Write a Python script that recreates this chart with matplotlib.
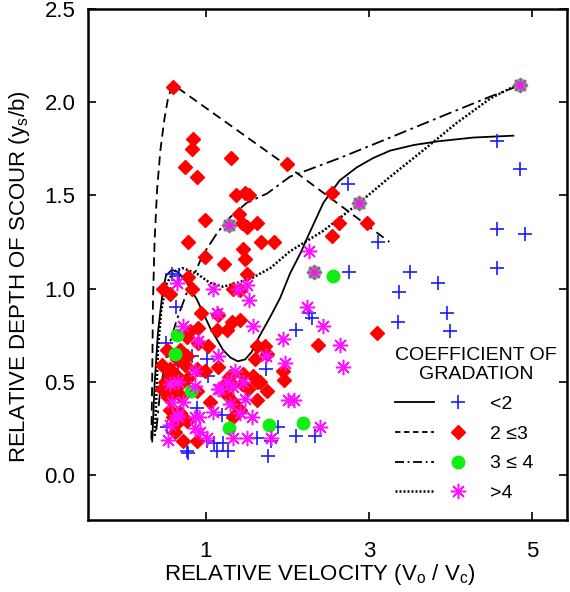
import matplotlib.pyplot as plt
from matplotlib.lines import Line2D
from matplotlib.legend_handler import HandlerTuple

plt.rcParams['font.family'] = ['Liberation Sans', 'DejaVu Sans']
plt.rcParams['mathtext.default'] = 'regular'

# scatter data, relative velocity vs relative depth of scour
blue_x = [0.58, 0.67, 0.63, 0.51, 0.83, 1.01, 0.66, 1.03, 0.67, 0.89, 1.20, 0.52,
          1.01, 1.10, 1.21, 1.14, 1.27, 0.77, 0.78, 1.74, 1.88, 1.63, 1.80, 2.10,
          2.34, 1.76, 2.10, 2.26, 2.30, 2.74, 3.11, 2.76, 3.50, 3.85, 3.37, 3.96,
          3.99, 3.36, 4.57, 4.85, 4.57, 4.91, 4.57]
blue_y = [1.08, 1.07, 0.90, 0.71, 0.64, 0.62, 0.59, 0.53, 0.50, 0.36, 0.32, 0.26,
          0.18, 0.17, 0.17, 0.13, 0.13, 0.13, 0.12, 0.57, 0.26, 0.20, 0.18, 0.21,
          0.21, 0.10, 0.78, 0.87, 0.84, 1.56, 1.25, 1.09, 1.09, 1.03, 0.98, 0.87,
          0.77, 0.82, 1.79, 1.64, 1.32, 1.29, 1.11]

red_x = [0.60, 0.84, 0.83, 1.31, 0.74, 0.89, 1.99, 1.37, 1.48, 1.53, 1.40, 0.99,
         1.44, 1.50, 1.63, 0.78, 1.68, 1.83, 0.99, 1.45, 1.48, 1.22, 1.50, 0.47,
         0.56, 0.78, 0.83, 1.33, 1.42, 2.55, 2.63, 2.98, 2.55, 3.10, 2.37, 1.95,
         1.96, 0.94, 1.15, 1.32, 1.42, 0.90, 0.80, 1.14, 1.26, 0.77, 0.68, 0.52,
         0.90, 1.02, 1.63, 1.72, 1.75, 1.60, 0.77, 0.64, 0.74, 0.56, 0.46, 0.89,
         1.15, 0.56, 0.64, 0.50, 0.71, 0.78, 0.99, 1.29, 1.45, 1.58, 1.32, 1.44,
         1.63, 0.60, 0.68, 0.46, 0.53, 0.89, 1.05, 1.23, 1.26, 1.52, 1.66, 1.75,
         1.63, 1.33, 0.56, 0.68, 0.60, 0.77, 0.64, 0.62, 0.72, 0.89, 1.33, 1.42]
red_y = [2.08, 1.80, 1.75, 1.70, 1.65, 1.60, 1.67, 1.50, 1.51, 1.50, 1.40, 1.37,
         1.35, 1.33, 1.35, 1.25, 1.25, 1.25, 1.17, 1.21, 1.16, 1.13, 1.08, 1.00,
         0.97, 1.06, 1.00, 1.00, 0.99, 1.51, 1.35, 1.35, 1.28, 0.76, 0.70, 0.56,
         0.51, 0.87, 0.86, 0.82, 0.83, 0.79, 0.77, 0.78, 0.78, 0.74, 0.67, 0.67,
         0.71, 0.69, 0.69, 0.69, 0.65, 0.62, 0.64, 0.62, 0.59, 0.57, 0.59, 0.57,
         0.58, 0.54, 0.53, 0.50, 0.50, 0.52, 0.56, 0.53, 0.54, 0.53, 0.49, 0.49,
         0.50, 0.46, 0.43, 0.46, 0.42, 0.45, 0.39, 0.49, 0.43, 0.46, 0.50, 0.45,
         0.40, 0.39, 0.35, 0.33, 0.31, 0.29, 0.28, 0.23, 0.18, 0.18, 0.31, 0.35]

green_x = [4.85, 2.88, 2.33, 1.28, 2.56, 0.64, 0.62, 0.82, 1.28, 1.77, 2.19]
green_y = [2.09, 1.46, 1.09, 1.34, 1.07, 0.75, 0.65, 0.45, 0.25, 0.27, 0.28]

mag_x = [4.85, 2.88, 2.33, 1.28, 2.26, 2.24, 2.44, 2.64, 1.95, 1.97, 2.68, 2.01,
         2.08, 2.40, 1.53, 1.58, 1.50, 1.74, 1.50, 1.80, 1.09, 1.39, 0.64, 1.14,
         0.72, 0.90, 1.15, 1.36, 0.87, 0.66, 1.26, 1.45, 1.48, 1.17, 0.58, 0.72,
         0.87, 0.66, 0.56, 0.93, 1.01, 1.33, 0.53, 1.42, 1.56, 1.29, 0.87, 0.56,
         1.09, 0.91, 1.33, 1.15, 0.87, 0.64]
mag_y = [2.09, 1.46, 1.09, 1.34, 1.20, 0.90, 0.80, 0.70, 0.73, 0.60, 0.58, 0.40,
         0.40, 0.26, 0.94, 0.80, 1.02, 0.64, 0.20, 0.20, 1.00, 1.00, 1.03, 0.87,
         0.80, 0.72, 0.64, 0.56, 0.48, 0.50, 0.50, 0.50, 0.41, 0.46, 0.39, 0.39,
         0.31, 0.31, 0.27, 0.23, 0.20, 0.20, 0.19, 0.33, 0.31, 0.38, 0.56, 0.49,
         0.34, 0.31, 0.47, 0.46, 0.25, 0.32]

# envelope curves
solid_x = [0.34, 0.37, 0.41, 0.47, 0.51, 0.58, 0.65, 0.74, 0.89, 1.05, 1.21,
           1.30, 1.39, 1.48, 1.56, 1.65, 1.79, 1.91, 2.03, 2.17, 2.25, 2.44,
           2.64, 2.85, 3.05, 3.26, 3.55, 3.85, 4.28, 4.77]
solid_y = [0.18, 0.49, 0.76, 0.99, 1.07, 1.10, 1.09, 1.05, 0.94, 0.79, 0.67,
           0.63, 0.61, 0.62, 0.66, 0.74, 0.85, 0.95, 1.08, 1.20, 1.28, 1.46,
           1.58, 1.65, 1.70, 1.74, 1.77, 1.79, 1.81, 1.82]
dash_x = [0.33, 0.34, 0.35, 0.37, 0.40, 0.44, 0.49, 0.53, 0.57, 0.61, 1.99, 3.25]
dash_y = [0.19, 0.51, 0.94, 1.26, 1.53, 1.74, 1.91, 2.01, 2.07, 2.09, 1.66, 1.25]
dashdot_x = [0.39, 0.44, 0.53, 0.64, 0.80, 0.96, 1.14, 1.29, 1.50, 1.75, 2.03,
             2.64, 3.26, 3.87, 4.49, 4.85]
dashdot_y = [0.24, 0.46, 0.67, 0.83, 1.02, 1.18, 1.30, 1.38, 1.46, 1.51, 1.60,
             1.70, 1.81, 1.92, 2.03, 2.09]
dot_x = [0.37, 0.39, 0.41, 0.45, 0.51, 0.60, 0.71, 0.89, 1.05, 1.21, 1.38, 1.58,
         1.79, 2.03, 2.44, 2.88, 3.26, 3.66, 4.08, 4.49, 4.85]
dot_y = [0.21, 0.40, 0.67, 0.88, 1.02, 1.09, 1.11, 1.08, 1.03, 1.01, 1.03, 1.06,
         1.11, 1.20, 1.31, 1.46, 1.60, 1.74, 1.89, 2.02, 2.10]

fig = plt.figure(figsize=(5.7, 5.92), dpi=100)
ax = fig.add_axes([0.154, 0.122, 0.841, 0.863])

ax.plot(solid_x, solid_y, color='black', lw=1.3, ls='-')
ax.plot(dash_x, dash_y, color='black', lw=1.3, ls=(0, (5, 3)))
ax.plot(dashdot_x, dashdot_y, color='black', lw=1.3, ls=(0, (7, 2.5, 1.5, 2.5)))
ax.plot(dot_x, dot_y, color='black', lw=1.8, ls=(0, (0.8, 0.8)))

ax.plot(blue_x, blue_y, ls='none', marker='+', ms=10, mew=1.2, color='#1a1aff')
ax.plot(red_x, red_y, ls='none', marker='D', ms=7, color='#ff0000', mec='#ff0000')
ax.plot(green_x, green_y, ls='none', marker='o', ms=9, color='#11ee11', mec='#11ee11')
ax.plot(mag_x, mag_y, ls='none', marker=(8, 2, 0), ms=11, mew=1.1, color='#ff10ff')

ax.set_xlim(-0.45, 5.43)
ax.set_ylim(-0.24, 2.5)
ax.set_xticks([1, 3, 5])
ax.set_yticks([0.0, 0.5, 1.0, 1.5, 2.0, 2.5])
ax.set_yticklabels(['0.0', '0.5', '1.0', '1.5', '2.0', '2.5'])
ax.tick_params(direction='in', length=6, width=1.2, labelsize=16,
               top=True, right=True)
ax.tick_params(axis='y', pad=9)
ax.tick_params(axis='x', pad=15)
for s in ax.spines.values():
    s.set_linewidth(1.8)

ax.set_xlabel('RELATIVE VELOCITY (V$_o$ / V$_c$)', fontsize=16, va='top')
ax.set_ylabel('RELATIVE DEPTH OF SCOUR (y$_s$/b)', fontsize=16)
ax.xaxis.set_label_coords(0.485, -0.083)
ax.yaxis.set_label_coords(-0.117, 0.476)

handles = [
    (Line2D([], [], color='black', lw=1.3, ls='-'),
     Line2D([], [], ls='none', marker='+', ms=10, mew=1.2, color='#1a1aff')),
    (Line2D([], [], color='black', lw=1.3, ls=(0, (3, 2))),
     Line2D([], [], ls='none', marker='D', ms=7, color='#ff0000')),
    (Line2D([], [], color='black', lw=1.3, ls=(0, (5, 2, 1, 2))),
     Line2D([], [], ls='none', marker='o', ms=9, color='#11ee11')),
    (Line2D([], [], color='black', lw=1.8, ls=(0, (0.8, 0.8))),
     Line2D([], [], ls='none', marker=(8, 2, 0), ms=11, mew=1.1, color='#ff10ff')),
]
labels = ['<2', '2 \u22643', '3 \u2264 4', '>4']
leg = ax.legend(handles, labels, loc='upper left', bbox_to_anchor=(0.605, 0.373),
                frameon=False, fontsize=14, handlelength=4.25, handletextpad=0.6,
                labelspacing=0.62, title='COEFFICIENT OF\nGRADATION',
                title_fontsize=14,
                handler_map={tuple: HandlerTuple(ndivide=None, pad=0.23)})
leg.get_title().set_multialignment('center')
leg._legend_box.align = 'left'

fig.savefig('out.png', dpi=100)
